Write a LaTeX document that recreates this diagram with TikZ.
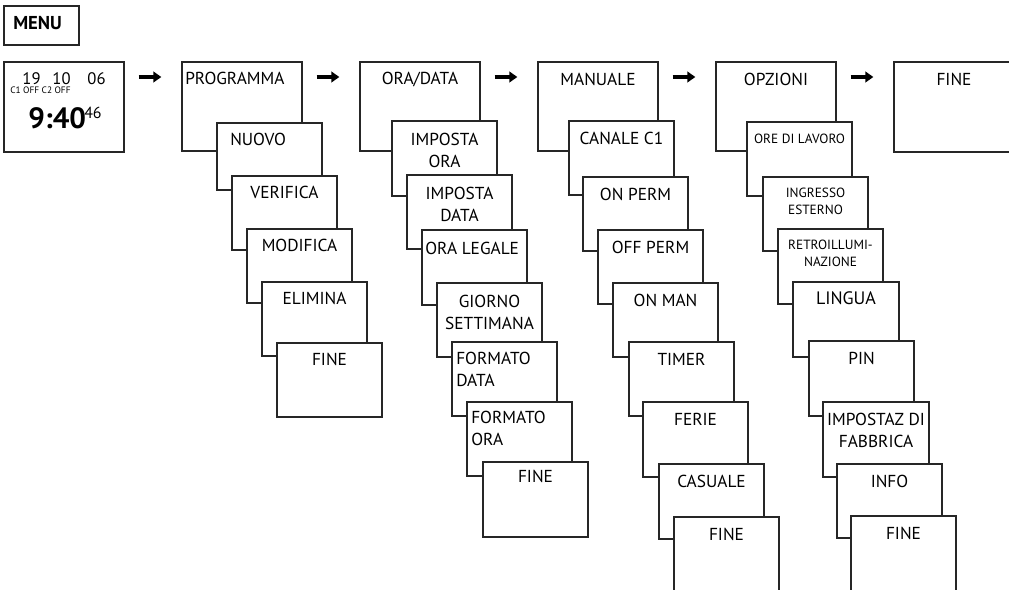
\documentclass[tikz,border=0pt]{standalone}
\usepackage{fontspec}
\setmainfont{PT Sans}
\usetikzlibrary{fit,arrows.meta}
\begin{document}
\begin{tikzpicture}[x=0.75pt,y=-0.75pt,
  box/.style={draw=black!85, line width=0.9pt, fill=white, inner sep=0pt, outer sep=0pt},
  lbl/.style={inner sep=0pt, anchor=north, align=center, font=\fontsize{13}{16.5}\selectfont},
  lbll/.style={lbl, anchor=north west, align=left},
  smalllbl/.style={lbl, font=\fontsize{10}{12.75}\selectfont},
  biglbl/.style={lbl, font=\fontsize{13.5}{16.5}\selectfont},
  bigarr/.style={line width=3pt, -{Triangle[length=6pt,width=8pt]}, shorten <=11pt, shorten >=15.5pt}]
\useasboundingbox (0,0) rectangle (1009,589);
\clip (0,0) rectangle (1009,589);
% MENU
\node[box, fit={(4,6) (79,45)}] (menu) {};
\node[inner sep=0pt, anchor=north west, font=\bfseries\fontsize{14}{16}\selectfont] (menut) at (13,16) {MENU};
% display
\node[box, fit={(4,62) (124,152)}] (disp) {};
\node[inner sep=0pt, anchor=north, font=\fontsize{12.5}{15}\selectfont] (d19) at (31.5,72) {19};
\node[inner sep=0pt, anchor=north, font=\fontsize{12.5}{15}\selectfont] (d10) at (61.5,72) {10};
\node[inner sep=0pt, anchor=north, font=\fontsize{12.5}{15}\selectfont] (d06) at (96.5,72) {06};
\node[inner sep=0pt, anchor=north west, font=\fontsize{7}{8}\selectfont] (dch) at (10,87) {C1 OFF C2 OFF};
\node[inner sep=0pt, anchor=north west, font=\bfseries\fontsize{22}{26}\selectfont] (dtime) at (28,107) {9:40};
\node[inner sep=0pt, anchor=north west, font=\fontsize{12}{14}\selectfont] (dsec) at (84,107) {46};
% PROGRAMMA column
\node[box, fit={(182,62) (302,151)}] (prog) {};
\node[lbll] (prog-t) at (185,72) {PROGRAMMA};
\node[box, fit={(217,123) (322,190)}] (nuovo) {};
\node[lbll] (nuovo-t) at (230,133) {NUOVO};
\node[box, fit={(232,176) (337,250)}] (verifica) {};
\node[lbl] (verifica-t) at ([yshift=-7.5pt]verifica.north) {VERIFICA};
\node[box, fit={(247,229) (352,303)}] (modifica) {};
\node[lbl] (modifica-t) at ([yshift=-7.5pt]modifica.north) {MODIFICA};
\node[box, fit={(262,282) (367,356)}] (elimina) {};
\node[lbl] (elimina-t) at ([yshift=-7.5pt]elimina.north) {ELIMINA};
\node[box, fit={(277,343) (382,417)}] (fine1) {};
\node[lbl] (fine1-t) at ([yshift=-7.5pt]fine1.north) {FINE};
% ORA/DATA column
\node[box, fit={(360,62) (480,151)}] (ora) {};
\node[lbl] (ora-t) at ([yshift=-7.5pt]ora.north) {ORA/DATA};
\node[box, fit={(392,121) (497,196)}] (impora) {};
\node[lbl] (impora-t) at ([yshift=-9pt]impora.north) {IMPOSTA\\ORA};
\node[box, fit={(407,175) (512,249)}] (impdata) {};
\node[lbl] (impdata-t) at ([yshift=-9pt]impdata.north) {IMPOSTA\\DATA};
\node[box, fit={(422,230) (527,305)}] (legale) {};
\node[lbll] (legale-t) at (425,242) {ORA LEGALE};
\node[box, fit={(437,283) (542,357)}] (giorno) {};
\node[lbl] (giorno-t) at ([yshift=-9pt]giorno.north) {GIORNO\\SETTIMANA};
\node[box, fit={(452,342) (557,416)}] (fdata) {};
\node[lbll] (fdata-t) at (456,352) {FORMATO\\DATA};
\node[box, fit={(467,402) (572,476)}] (fora) {};
\node[lbll] (fora-t) at (471,411) {FORMATO\\ORA};
\node[box, fit={(483,462) (588,537)}] (fine2) {};
\node[lbl] (fine2-t) at ([yshift=-6pt]fine2.north) {FINE};
% MANUALE column
\node[box, fit={(538,62) (658,151)}] (man) {};
\node[lbl] (man-t) at ([yshift=-8pt]man.north) {MANUALE};
\node[box, fit={(569,121) (674,195)}] (canale) {};
\node[lbl] (canale-t) at ([yshift=-8pt]canale.north) {CANALE C1};
\node[box, fit={(583,177) (688,251)}] (onperm) {};
\node[lbl] (onperm-t) at ([yshift=-8pt]onperm.north) {ON PERM};
\node[box, fit={(598,230) (703,304)}] (offperm) {};
\node[lbl] (offperm-t) at ([yshift=-8pt]offperm.north) {OFF PERM};
\node[box, fit={(613,283) (718,357)}] (onman) {};
\node[lbl] (onman-t) at ([yshift=-8pt]onman.north) {ON MAN};
\node[box, fit={(629,342) (734,416)}] (timer) {};
\node[lbl] (timer-t) at ([yshift=-8pt]timer.north) {TIMER};
\node[box, fit={(643,402) (748,477)}] (ferie) {};
\node[lbl] (ferie-t) at ([yshift=-8pt]ferie.north) {FERIE};
\node[box, fit={(659,464) (764,539)}] (casuale) {};
\node[lbl] (casuale-t) at ([yshift=-8pt]casuale.north) {CASUALE};
\node[box, fit={(674,517) (779,600)}] (fine3) {};
\node[lbl] (fine3-t) at ([yshift=-8pt]fine3.north) {FINE};
% OPZIONI column
\node[box, fit={(716,62) (836,151)}] (opz) {};
\node[lbl] (opz-t) at ([yshift=-8pt]opz.north) {OPZIONI};
\node[box, fit={(747,122) (852,196)}] (ore) {};
\node[smalllbl] (ore-t) at ([yshift=-9pt]ore.north) {ORE DI LAVORO};
\node[box, fit={(763,177) (868,251)}] (ingr) {};
\node[smalllbl] (ingr-t) at ([yshift=-8pt]ingr.north) {INGRESSO\\ESTERNO};
\node[box, fit={(778,229) (883,304)}] (retro) {};
\node[smalllbl] (retro-t) at ([yshift=-8pt]retro.north) {RETROILLUMI-\\NAZIONE};
\node[box, fit={(793,282) (899,357)}] (lingua) {};
\node[biglbl] (lingua-t) at ([yshift=-7pt]lingua.north) {LINGUA};
\node[box, fit={(809,341) (914,416)}] (pin) {};
\node[lbl] (pin-t) at ([yshift=-8pt]pin.north) {PIN};
\node[box, fit={(823,402) (929,477)}] (impostaz) {};
\node[lbl] (impostaz-t) at ([yshift=-8pt]impostaz.north) {IMPOSTAZ DI\\FABBRICA};
\node[box, fit={(837,464) (942,538)}] (info) {};
\node[lbl] (info-t) at ([yshift=-8pt]info.north) {INFO};
\node[box, fit={(851,516) (956,600)}] (fine4) {};
\node[lbl] (fine4-t) at ([yshift=-8pt]fine4.north) {FINE};
% final
\node[box, fit={(894,62) (1014,152)}] (fine5) {};
\node[lbl] (fine5-t) at ([yshift=-8pt]fine5.north) {FINE};
% arrows
\draw[bigarr] ([yshift=-11.25pt]disp.north east) -- ([yshift=-11.25pt]prog.north west);
\draw[bigarr] ([yshift=-11.25pt]prog.north east) -- ([yshift=-11.25pt]ora.north west);
\draw[bigarr] ([yshift=-11.25pt]ora.north east) -- ([yshift=-11.25pt]man.north west);
\draw[bigarr] ([yshift=-11.25pt]man.north east) -- ([yshift=-11.25pt]opz.north west);
\draw[bigarr] ([yshift=-11.25pt]opz.north east) -- ([yshift=-11.25pt]fine5.north west);
\end{tikzpicture}
\end{document}
